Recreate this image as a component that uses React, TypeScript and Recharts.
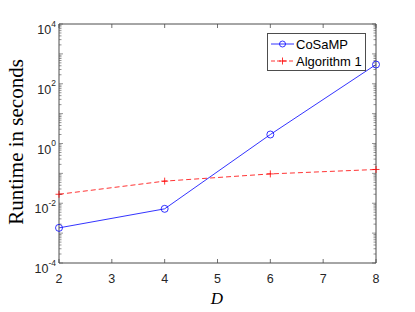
import React from "react";
import { LineChart, Line, XAxis, YAxis } from "recharts";

const dims = [2, 4, 6, 8];
const cosampTimes = [0.0015, 0.0065, 2.0, 440];
const alg1Times = [0.02, 0.055, 0.096, 0.135];
const xTicks = [2, 3, 4, 5, 6, 7, 8];
const labelledExps = [-4, -2, 0, 2, 4];

const data = dims.map((d, i) => ({ d, cosamp: cosampTimes[i], alg1: alg1Times[i] }));

// log ticks: every decade plus 2..9 minors
const yTicks: number[] = [];
for (let e = -4; e <= 4; e++) {
  yTicks.push(Math.pow(10, e));
  if (e < 4) for (let k = 2; k <= 9; k++) yTicks.push(k * Math.pow(10, e));
}

const AXIS = "#4d4d4d";
const SANS = "'Liberation Sans', Arial, sans-serif";
const SERIF = "'Liberation Serif', 'Times New Roman', serif";

const isMajor = (v: number) => {
  const e = Math.log10(v);
  return Math.abs(e - Math.round(e)) < 1e-6;
};

const LeftTick = (props: any) => {
  const { x, y, payload } = props;
  const v = payload.value;
  const major = isMajor(v);
  const e = Math.round(Math.log10(v));
  const labelled = major && labelledExps.includes(e);
  return (
    <g>
      <line x1={x} x2={x + (major ? 4 : 2.5)} y1={y} y2={y} stroke={AXIS} strokeWidth={0.6} />
      {labelled && (
        <text x={x - 3} y={y + 10} textAnchor="end" fontFamily={SANS} fontSize={12.5} fill="#262626">
          10<tspan dy={-7.5} fontSize={8.5}>{e}</tspan>
        </text>
      )}
    </g>
  );
};

const RightTick = (props: any) => {
  const { x, y, payload } = props;
  const major = isMajor(payload.value);
  return <line x1={x} x2={x - (major ? 4 : 2.5)} y1={y} y2={y} stroke={AXIS} strokeWidth={0.6} />;
};

const BottomTick = (props: any) => {
  const { x, y, payload } = props;
  return (
    <g>
      <line x1={x} x2={x} y1={y} y2={y - 4} stroke={AXIS} strokeWidth={0.8} />
      <text x={x} y={y + 20} textAnchor="middle" fontFamily={SANS} fontSize={12.5} fill="#262626">
        {payload.value}
      </text>
    </g>
  );
};

const TopTick = (props: any) => {
  const { x, y } = props;
  return <line x1={x} x2={x} y1={y} y2={y + 4} stroke={AXIS} strokeWidth={0.8} />;
};

const CircleDot = (props: any) => {
  const { cx, cy } = props;
  return <circle key={`c${cx}`} cx={cx} cy={cy} r={3.5} fill="none" stroke="#0000ff" strokeWidth={0.8} />;
};

const PlusDot = (props: any) => {
  const { cx, cy } = props;
  return (
    <g key={`p${cx}`}>
      <line x1={cx - 3.5} x2={cx + 3.5} y1={cy} y2={cy} stroke="#ff0000" strokeWidth={0.8} />
      <line x1={cx} x2={cx} y1={cy - 3.5} y2={cy + 3.5} stroke="#ff0000" strokeWidth={0.8} />
    </g>
  );
};

const LegendBox = () => (
  <div
    style={{
      position: "absolute",
      left: 267,
      top: 33,
      width: 99,
      height: 38,
      border: `1px solid ${AXIS}`,
      background: "#fff",
      boxSizing: "border-box",
    }}
  >
    <svg width={97} height={36} style={{ display: "block" }}>
      <line x1={3} x2={26} y1={10} y2={10} stroke="#0000ff" strokeWidth={0.8} />
      <circle cx={14.5} cy={10} r={3} fill="none" stroke="#0000ff" strokeWidth={0.8} />
      <text x={28} y={14.5} fontFamily={SANS} fontSize={13} fill="#000">CoSaMP</text>
      <line x1={3} x2={26} y1={27} y2={27} stroke="#ff0000" strokeWidth={0.8} strokeDasharray="4 2" />
      <line x1={11} x2={18} y1={27} y2={27} stroke="#ff0000" strokeWidth={0.8} />
      <line x1={14.5} x2={14.5} y1={23.5} y2={30.5} stroke="#ff0000" strokeWidth={0.8} />
      <text x={28} y={31.5} fontFamily={SANS} fontSize={13} fill="#000">Algorithm 1</text>
    </svg>
  </div>
);

export default function App() {
  return (
    <div style={{ position: "absolute", left: 0, top: 0, width: 415, height: 312, background: "#fff" }}>
      <LineChart
        width={415}
        height={312}
        data={data}
        margin={{ top: 0, right: 0, bottom: 0, left: 0 }}
        style={{ overflow: "visible" }}
      >
        <XAxis
          dataKey="d"
          type="number"
          domain={[2, 8]}
          ticks={xTicks}
          interval={0}
          height={49}
          tickSize={0}
          tickMargin={0}
          tick={<BottomTick />}
          axisLine={{ stroke: AXIS }}
        />
        <XAxis
          xAxisId="top"
          orientation="top"
          dataKey="d"
          type="number"
          domain={[2, 8]}
          ticks={xTicks}
          interval={0}
          height={24}
          tickSize={0}
          tickMargin={0}
          tick={<TopTick />}
          axisLine={{ stroke: AXIS }}
        />
        <YAxis
          scale="log"
          type="number"
          domain={[1e-4, 1e4]}
          allowDataOverflow
          ticks={yTicks}
          interval={0}
          width={59}
          tickSize={0}
          tickMargin={0}
          tick={<LeftTick />}
          axisLine={{ stroke: AXIS }}
        />
        <YAxis
          yAxisId="right"
          orientation="right"
          scale="log"
          type="number"
          domain={[1e-4, 1e4]}
          allowDataOverflow
          ticks={yTicks}
          interval={0}
          width={39}
          tickSize={0}
          tickMargin={0}
          tick={<RightTick />}
          axisLine={{ stroke: AXIS }}
        />
        <Line
          dataKey="cosamp"
          name="CoSaMP"
          stroke="#0000ff"
          strokeWidth={0.8}
          dot={<CircleDot />}
          activeDot={false}
          isAnimationActive={false}
        />
        <Line
          dataKey="alg1"
          name="Algorithm 1"
          stroke="#ff0000"
          strokeWidth={0.8}
          strokeDasharray="5 3"
          dot={<PlusDot />}
          activeDot={false}
          isAnimationActive={false}
        />
        <text
          x={16}
          y={142}
          transform="rotate(-90 16 142)"
          textAnchor="middle"
          dominantBaseline="central"
          fontFamily={SERIF}
          fontSize={21}
          fill="#000"
        >
          Runtime in seconds
        </text>
        <text x={217} y={304} textAnchor="middle" fontFamily={SERIF} fontStyle="italic" fontSize={17} fill="#000">
          D
        </text>
      </LineChart>
      <LegendBox />
    </div>
  );
}
